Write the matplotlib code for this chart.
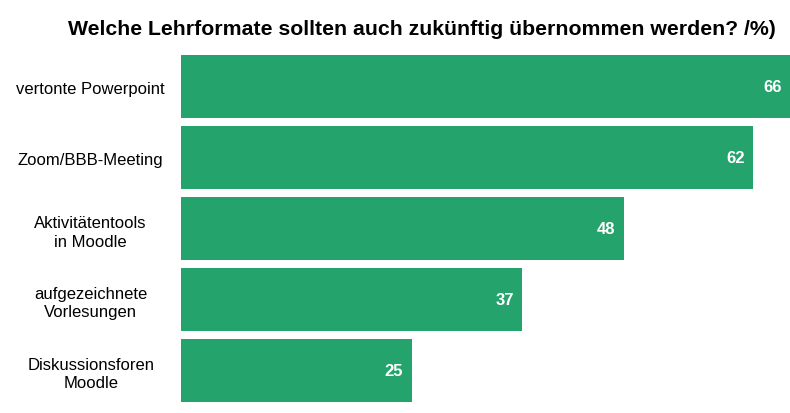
import matplotlib.pyplot as plt

categories = ["vertonte Powerpoint", "Zoom/BBB-Meeting", "Aktivitätentools\nin Moodle",
              "aufgezeichnete\nVorlesungen", "Diskussionsforen\nMoodle"]
values = [66, 62, 48, 37, 25]

plt.rcParams['font.family'] = ['Liberation Sans', 'DejaVu Sans']

green = "#24a46c"

fig = plt.figure(figsize=(7.9, 4.14), dpi=100)
ax = fig.add_axes([0.229, 0.018, 0.771, 0.855])

y = list(range(len(categories)))
bars = ax.barh(y, values, height=0.89, color=green)
ax.set_xlim(0, 66)
ax.set_ylim(len(categories) - 0.5, -0.5)

# value labels inside the bar ends
for bar, v in zip(bars, values):
    ax.text(bar.get_width() - 0.9, bar.get_y() + bar.get_height() / 2, str(v),
            color="white", fontsize=12, fontweight="bold", ha="right", va="center")

ax.set_yticks(y)
ax.set_yticklabels(categories, fontsize=12, multialignment="center", ha="center",
                   linespacing=1.3)
ax.tick_params(axis="y", length=0, pad=65)
ax.set_xticks([])
for s in ax.spines.values():
    s.set_visible(False)

fig.text(0.534, 0.928, "Welche Lehrformate sollten auch zukünftig übernommen werden? /%)",
         ha="center", va="center", fontsize=15.3, fontweight="bold")

fig.savefig("out.png", dpi=100)
